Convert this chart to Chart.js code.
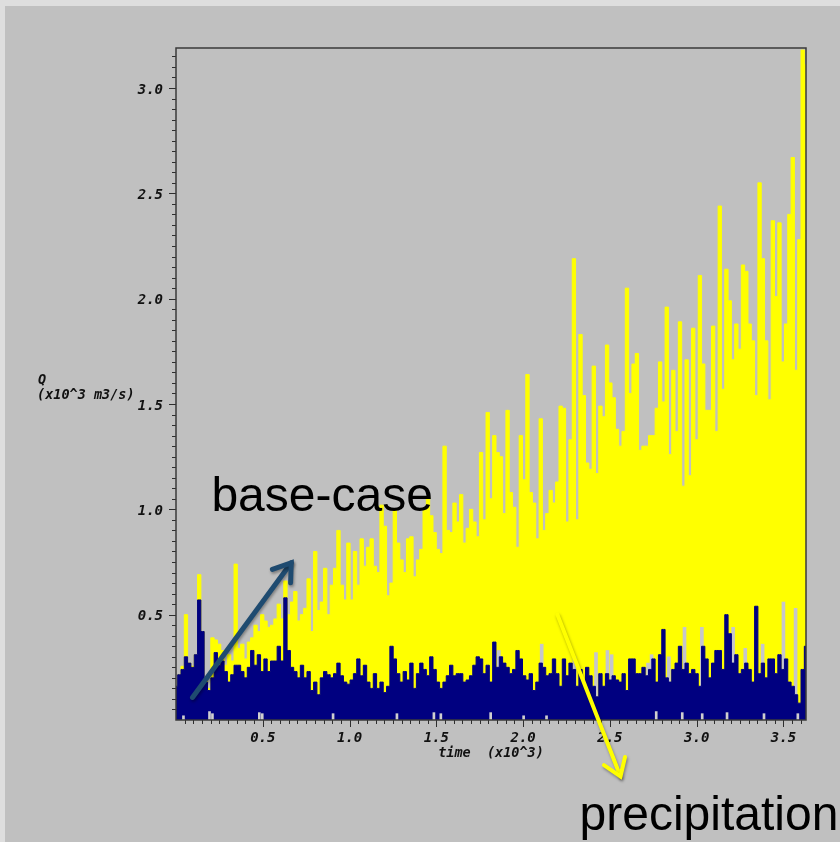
<!DOCTYPE html>
<html>
<head>
<meta charset="utf-8">
<script src="https://cdn.jsdelivr.net/npm/chart.js@4.4.0/dist/chart.umd.min.js"></script>
<style>
  html, body { margin: 0; padding: 0; width: 840px; height: 842px; overflow: hidden; background: #dedede; }
  #panel { position: absolute; left: 5px; top: 6px; right: 0; bottom: 0; background: #c0c0c0; }
  #wrap { position: absolute; left: 0; top: 0; width: 840px; height: 842px; }
</style>
</head>
<body>
<div id="panel"></div>
<div id="wrap"><canvas id="chart" width="840" height="842"></canvas></div>
<script>
// time axis runs 0 .. 3.63 (x10^3), one value per bin
const TIME_MAX = 3.63;
const TIME_STEP = TIME_MAX / 190;

// precipitation scenario (yellow), Q in x10^3 m3/s
const precipQ = [
  0.16, 0.215, 0.255, 0.50, 0.27, 0.255, 0.31, 0.69, 0.42, 0.20, 0.15, 0.39, 0.38, 0.36, 0.33, 0.26,
  0.31, 0.28, 0.74, 0.34, 0.36, 0.29, 0.37, 0.39, 0.45, 0.42, 0.50, 0.47, 0.44, 0.45, 0.48, 0.55,
  0.48, 0.66, 0.50, 0.56, 0.61, 0.47, 0.50, 0.53, 0.67, 0.42, 0.80, 0.52, 0.56, 0.72, 0.50, 0.64,
  0.72, 0.90, 0.64, 0.57, 0.84, 0.57, 0.80, 0.64, 0.86, 0.73, 0.82, 0.86, 0.73, 0.70, 1.02, 0.92,
  0.59, 0.65, 1.00, 0.84, 0.76, 0.70, 0.86, 0.87, 0.68, 0.76, 0.81, 1.00, 1.06, 0.97, 0.89, 0.81,
  0.79, 1.30, 0.90, 0.89, 1.03, 0.94, 1.07, 0.84, 0.91, 1.00, 0.94, 0.87, 1.27, 0.95, 1.46, 1.05,
  1.35, 1.27, 1.25, 0.98, 1.47, 1.08, 1.01, 0.82, 1.35, 1.14, 1.64, 1.08, 1.03, 0.86, 1.43, 0.90,
  0.98, 1.09, 1.03, 1.13, 1.49, 1.48, 0.94, 1.33, 2.19, 0.95, 1.83, 1.54, 1.22, 1.19, 1.68, 1.17,
  1.49, 1.44, 1.78, 1.60, 1.53, 1.38, 1.30, 1.37, 2.05, 1.55, 1.69, 1.74, 1.28, 1.30, 1.30, 1.35,
  1.35, 1.48, 1.70, 1.51, 1.96, 1.26, 1.66, 1.37, 1.89, 1.11, 1.71, 1.16, 1.86, 1.33, 2.11, 1.69,
  1.47, 1.47, 1.87, 1.37, 2.44, 1.57, 2.14, 1.99, 1.71, 1.88, 1.76, 2.16, 2.13, 1.88, 1.80, 1.54,
  2.55, 2.19, 1.80, 1.52, 2.37, 2.01, 2.36, 1.70, 1.88, 2.40, 2.67, 1.66, 2.28, 3.18, 3.11
];

// base-case (navy)
const baseQ = [
  0.16, 0.215, 0.24, 0.30, 0.27, 0.25, 0.31, 0.57, 0.42, 0.18, 0.14, 0.20, 0.32, 0.26, 0.28, 0.23,
  0.18, 0.215, 0.26, 0.26, 0.23, 0.20, 0.25, 0.33, 0.26, 0.31, 0.23, 0.29, 0.23, 0.28, 0.28, 0.35,
  0.28, 0.58, 0.33, 0.25, 0.23, 0.20, 0.26, 0.20, 0.23, 0.14, 0.18, 0.12, 0.20, 0.23, 0.215, 0.20,
  0.22, 0.27, 0.21, 0.18, 0.17, 0.19, 0.22, 0.29, 0.21, 0.26, 0.18, 0.15, 0.22, 0.15, 0.18, 0.13,
  0.16, 0.35, 0.29, 0.22, 0.18, 0.23, 0.19, 0.27, 0.15, 0.22, 0.27, 0.24, 0.21, 0.30, 0.24, 0.18,
  0.15, 0.18, 0.21, 0.26, 0.21, 0.22, 0.22, 0.18, 0.19, 0.21, 0.26, 0.30, 0.29, 0.22, 0.26, 0.18,
  0.37, 0.25, 0.30, 0.27, 0.25, 0.22, 0.24, 0.33, 0.29, 0.21, 0.19, 0.22, 0.14, 0.18, 0.27, 0.25,
  0.21, 0.22, 0.29, 0.22, 0.16, 0.29, 0.21, 0.27, 0.24, 0.16, 0.24, 0.18, 0.25, 0.21, 0.16, 0.11,
  0.22, 0.16, 0.22, 0.19, 0.21, 0.19, 0.18, 0.22, 0.14, 0.29, 0.29, 0.22, 0.22, 0.25, 0.21, 0.24,
  0.29, 0.18, 0.31, 0.43, 0.20, 0.18, 0.24, 0.27, 0.35, 0.24, 0.27, 0.22, 0.24, 0.22, 0.16, 0.35,
  0.29, 0.20, 0.27, 0.33, 0.33, 0.24, 0.50, 0.41, 0.27, 0.31, 0.22, 0.24, 0.27, 0.24, 0.18, 0.54,
  0.22, 0.27, 0.20, 0.29, 0.29, 0.22, 0.31, 0.24, 0.29, 0.18, 0.16, 0.12, 0.08, 0.24, 0.35
];

// pale grey spikes showing above the base-case
const greyTimes = [1.86, 2.107, 2.296, 2.42, 2.486, 2.51, 2.72, 2.74, 2.84, 2.93, 3.03, 3.21, 3.28, 3.38, 3.50, 3.57];
const greyQ     = [0.33, 0.36, 0.30, 0.32, 0.33, 0.31, 0.27, 0.31, 0.30, 0.44, 0.44, 0.44, 0.34, 0.36, 0.56, 0.53];

// pale specks at the very bottom
const lowTimes = [0.043, 0.193, 0.21, 0.48, 0.497, 0.905, 1.273, 1.486, 1.526, 1.813, 2.003, 2.135, 2.767, 2.917, 3.032, 3.175, 3.388, 3.583];
const lowQ     = [0.02, 0.04, 0.03, 0.035, 0.03, 0.03, 0.03, 0.035, 0.03, 0.035, 0.02, 0.02, 0.04, 0.035, 0.03, 0.035, 0.03, 0.03];

const xTickValues = [0.5, 1.0, 1.5, 2.0, 2.5, 3.0, 3.5];
const yTickValues = [0.5, 1.0, 1.5, 2.0, 2.5, 3.0];
const Y_MAX = 3.19;

const tickFont = { family: "'DejaVu Sans Mono', monospace", size: 14, style: 'italic', weight: 'bold' };

function binPoints(vals) {
  return vals.map((v, i) => ({ x: i * TIME_STEP, y: v }));
}
function pairPoints(ts, vals) {
  return ts.map((t, i) => ({ x: t, y: vals[i] }));
}

function drawArrow(ctx, x1, y1, x2, y2, color, width, head) {
  const ang = Math.atan2(y2 - y1, x2 - x1);
  ctx.strokeStyle = color;
  ctx.lineWidth = width;
  ctx.lineCap = 'round';
  ctx.lineJoin = 'miter';
  ctx.beginPath();
  ctx.moveTo(x1, y1);
  ctx.lineTo(x2, y2);
  ctx.stroke();
  ctx.beginPath();
  ctx.moveTo(x2 - head * Math.cos(ang - 0.6), y2 - head * Math.sin(ang - 0.6));
  ctx.lineTo(x2, y2);
  ctx.lineTo(x2 - head * Math.cos(ang + 0.6), y2 - head * Math.sin(ang + 0.6));
  ctx.stroke();
}

// axis frame, minor ticks, titles and the two annotations
const decorations = {
  id: 'decorations',
  afterDraw(chart) {
    const { ctx, chartArea: a, scales: { x, y } } = chart;
    ctx.save();

    // tick marks (major every 0.5, minor every 0.05)
    ctx.strokeStyle = '#2e2e2e';
    ctx.lineWidth = 1;
    for (let k = 1; k * 0.05 <= Y_MAX; k++) {
      const py = Math.round(y.getPixelForValue(k * 0.05)) + 0.5;
      const len = k % 10 === 0 ? 7 : 4;
      ctx.beginPath();
      ctx.moveTo(a.left - len, py);
      ctx.lineTo(a.left, py);
      ctx.stroke();
    }
    for (let k = 1; k * 0.05 <= TIME_MAX; k++) {
      const px = Math.round(x.getPixelForValue(k * 0.05)) + 0.5;
      const len = k % 10 === 0 ? 7 : 4;
      ctx.beginPath();
      ctx.moveTo(px, a.bottom);
      ctx.lineTo(px, a.bottom + len);
      ctx.stroke();
    }

    // plot frame
    ctx.strokeStyle = '#3a3a3a';
    ctx.lineWidth = 1.5;
    ctx.strokeRect(a.left, a.top, a.right - a.left, a.bottom - a.top);

    // axis titles
    ctx.fillStyle = '#111';
    ctx.font = "italic bold 13.5px 'DejaVu Sans Mono', monospace";
    ctx.textBaseline = 'middle';
    ctx.textAlign = 'left';
    ctx.fillText('Q', 38, 380);
    ctx.fillText('(x10^3 m3/s)', 37, 395);
    ctx.textAlign = 'center';
    ctx.fillText('time  (x10^3)', (a.left + a.right) / 2, 753);

    // annotations, positioned in data units
    ctx.save();
    ctx.shadowColor = 'rgba(0,0,0,0.35)';
    ctx.shadowBlur = 3;
    ctx.shadowOffsetX = 1;
    ctx.shadowOffsetY = 2;
    drawArrow(ctx, x.getPixelForValue(0.095), y.getPixelForValue(0.107),
      x.getPixelForValue(0.664), y.getPixelForValue(0.746), '#1f4b70', 5, 20);
    drawArrow(ctx, x.getPixelForValue(2.198), y.getPixelForValue(0.50),
      x.getPixelForValue(2.561), y.getPixelForValue(-0.268), '#ffff00', 4, 20);
    ctx.restore();

    ctx.fillStyle = '#000';
    ctx.font = "48px 'Liberation Sans', Arial, sans-serif";
    ctx.textAlign = 'left';
    ctx.textBaseline = 'alphabetic';
    ctx.fillText('base-case', x.getPixelForValue(0.204), y.getPixelForValue(0.99));
    ctx.fillText('precipitation', x.getPixelForValue(2.325), y.getPixelForValue(-0.52));

    ctx.restore();
  }
};

new Chart(document.getElementById('chart'), {
  type: 'line',
  data: {
    datasets: [
      {
        label: 'low', type: 'bar', data: pairPoints(lowTimes, lowQ),
        backgroundColor: '#cfcfcf', borderWidth: 0, barThickness: 2, grouped: false, order: 0
      },
      {
        label: 'base-case', data: binPoints(baseQ), stepped: 'middle', fill: 'origin',
        backgroundColor: '#000080', borderColor: '#000080', borderWidth: 1, pointRadius: 0, order: 1
      },
      {
        label: 'grey', type: 'bar', data: pairPoints(greyTimes, greyQ),
        backgroundColor: '#c6c6cc', borderWidth: 0, barThickness: 3, grouped: false, order: 2
      },
      {
        label: 'precipitation', data: binPoints(precipQ), stepped: 'middle', fill: 'origin',
        backgroundColor: '#ffff00', borderColor: '#ffff00', borderWidth: 1, pointRadius: 0, order: 3
      }
    ]
  },
  options: {
    responsive: false,
    animation: false,
    events: [],
    layout: { padding: { left: 0, top: 48, right: 34, bottom: 0 } },
    plugins: { legend: { display: false }, tooltip: { enabled: false } },
    scales: {
      x: {
        type: 'linear', min: 0, max: TIME_MAX, offset: false,
        afterBuildTicks: s => { s.ticks = xTickValues.map(v => ({ value: v })); },
        afterFit: s => { s.height = 122; },
        ticks: { callback: v => v.toFixed(1), font: tickFont, color: '#111', padding: 10, maxRotation: 0, autoSkip: false },
        grid: { display: false, drawTicks: false },
        border: { display: false }
      },
      y: {
        type: 'linear', min: 0, max: Y_MAX,
        afterBuildTicks: s => { s.ticks = yTickValues.map(v => ({ value: v })); },
        afterFit: s => { s.width = 176; },
        ticks: { callback: v => v.toFixed(1), font: tickFont, color: '#111', padding: 13, labelOffset: 2, autoSkip: false },
        grid: { display: false, drawTicks: false },
        border: { display: false }
      }
    }
  },
  plugins: [decorations]
});
</script>
</body>
</html>
